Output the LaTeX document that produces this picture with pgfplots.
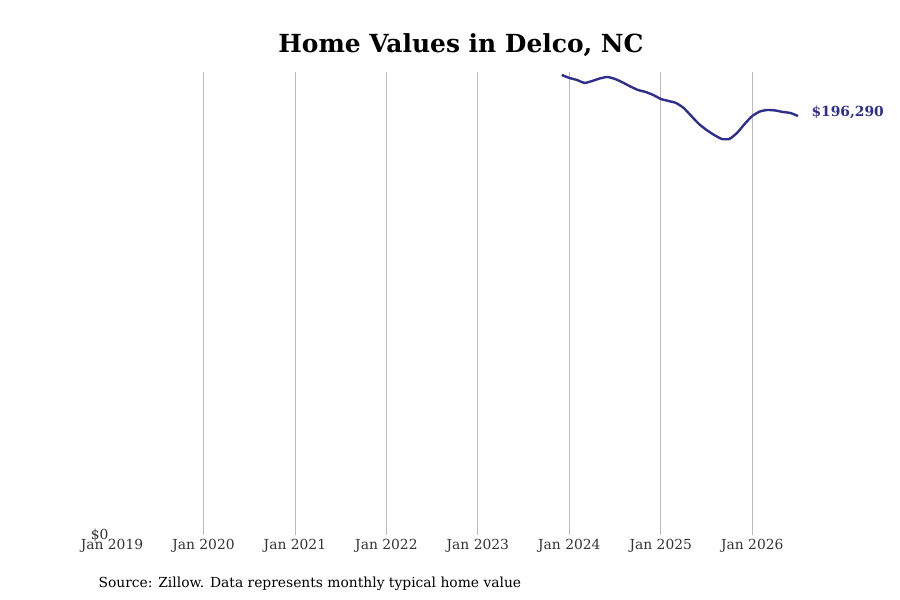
\documentclass[border=0pt]{standalone}
\usepackage{fontspec}
\setmainfont{DejaVu Serif}
\usepackage{pgfplots}
\pgfplotsset{compat=1.18}
\definecolor{linec}{HTML}{2E2E8C}
\definecolor{gridc}{HTML}{BBBBBB}
\definecolor{tickc}{HTML}{333333}
\begin{document}
\begin{tikzpicture}
\useasboundingbox (-112bp,-65bp) rectangle (788bp,535bp);
\begin{axis}[
  at={(0,0)}, anchor=south west,
  scale only axis, width=686bp, height=463bp,
  xmin=0, xmax=90, ymin=0, ymax=216900,
  axis line style={draw=none},
  clip=false,
  scaled y ticks=false,
  xtick={0,12,24,36,48,60,72,84},
  xticklabels={Jan 2019,Jan 2020,Jan 2021,Jan 2022,Jan 2023,Jan 2024,Jan 2025,Jan 2026},
  ytick={0}, yticklabels={\$0},
  tick style={draw=none},
  ticklabel style={font=\fontsize{13.9}{16}\selectfont, text=tickc},
  xticklabel style={yshift=-1bp},
  extra x ticks={12,24,36,48,60,72,84},
  extra x tick labels={},
  extra x tick style={grid=major, major grid style={gridc, line width=0.8bp}},
]
\addplot[linec, line width=2.4bp, smooth, tension=0.3] coordinates {
(59,215510) (60,214105) (61,213168) (62,211762) (63,212700) (64,213870)
(65,214573) (66,213636) (67,211996) (68,210122) (69,208483) (70,207546)
(71,206140) (72,204266) (73,203329) (74,202392) (75,200050) (76,196302)
(77,192554) (78,189743) (79,187400) (80,185526) (81,185526) (82,188337)
(83,192554) (84,196302) (85,198410) (86,199113) (87,198878) (88,198175)
(89,197706) (90,196290)
};
\node[anchor=west, text=linec, font=\fontsize{13.9}{16}\selectfont\bfseries] at (axis cs:90,196290) [xshift=10bp, yshift=4bp] {\$196,290};
\end{axis}
\node[font=\fontsize{25}{30}\selectfont\bfseries] at (349bp,490bp) {Home Values in Delco, NC};
\node[anchor=west, font=\fontsize{13.9}{16}\selectfont] at (-17bp,-49bp) {Source: Zillow. Data represents monthly typical home value};
\end{tikzpicture}
\end{document}
